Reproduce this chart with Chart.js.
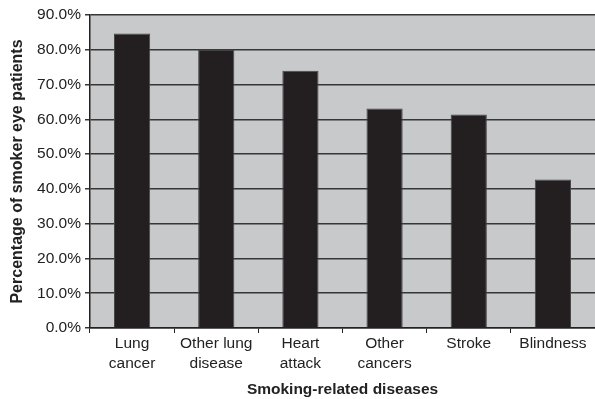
<!DOCTYPE html>
<html>
<head>
<meta charset="utf-8">
<script src="https://cdn.jsdelivr.net/npm/chart.js@4/dist/chart.umd.min.js"></script>
<style>
  html, body { margin: 0; padding: 0; background: #fff; }
  canvas { display: block; }
</style>
</head>
<body>
<canvas id="c" width="595" height="399"></canvas>
<script>
// Share of smoker eye patients who link each disease to smoking
const categories = [['Lung', 'cancer'], ['Other lung', 'disease'], ['Heart', 'attack'], ['Other', 'cancers'], ['Stroke'], ['Blindness']];
const percentages = [84.7, 80.1, 74.0, 63.1, 61.4, 42.7];
const yTicks = [0, 10, 20, 30, 40, 50, 60, 70, 80, 90];

// Grey plot background behind the bars
const plotBackground = {
  id: 'plotBackground',
  beforeDraw(chart) {
    const { ctx, chartArea: a } = chart;
    ctx.save();
    ctx.fillStyle = '#c8c9cb';
    ctx.fillRect(a.left, a.top, a.right - a.left, a.bottom - a.top);
    ctx.restore();
  }
};

const family = "'Liberation Sans', Arial, sans-serif";
const tickFont = { family: family, size: 15.5, lineHeight: 1.27 };

new Chart(document.getElementById('c'), {
  type: 'bar',
  data: {
    labels: categories,
    datasets: [{
      data: percentages,
      backgroundColor: '#231f20',
      borderColor: '#4a4748',
      borderWidth: 1,
      barPercentage: 0.43,
      categoryPercentage: 1.0
    }]
  },
  options: {
    responsive: false,
    animation: false,
    layout: { padding: { top: 15, right: 0, left: 0, bottom: 0 } },
    plugins: { legend: { display: false }, tooltip: { enabled: false } },
    scales: {
      x: {
        afterFit(scale) { scale.height = 71; },
        grid: { drawOnChartArea: false, color: '#222', tickLength: 5, offset: true },
        border: { color: '#222', width: 1.5 },
        ticks: { color: '#222', font: tickFont, maxRotation: 0, autoSkip: false, padding: 1 },
        title: {
          display: true, text: 'Smoking-related diseases', color: '#222',
          font: { family: family, size: 15.5, weight: 'bold' }, padding: { top: 6, bottom: 0 }
        }
      },
      y: {
        min: 0, max: 90,
        afterFit(scale) { scale.width = 90; },
        afterBuildTicks(scale) { scale.ticks = yTicks.map(v => ({ value: v })); },
        grid: { color: '#363636', lineWidth: 1.5, tickLength: 5 },
        border: { color: '#222', width: 1.5 },
        ticks: { color: '#222', font: tickFont, padding: 4, callback: v => v.toFixed(1) + '%' },
        title: {
          display: true, text: 'Percentage of smoker eye patients', color: '#222',
          font: { family: family, size: 16, weight: 'bold' }, padding: { top: 8, bottom: 0 }
        }
      }
    }
  },
  plugins: [plotBackground]
});
</script>
</body>
</html>
